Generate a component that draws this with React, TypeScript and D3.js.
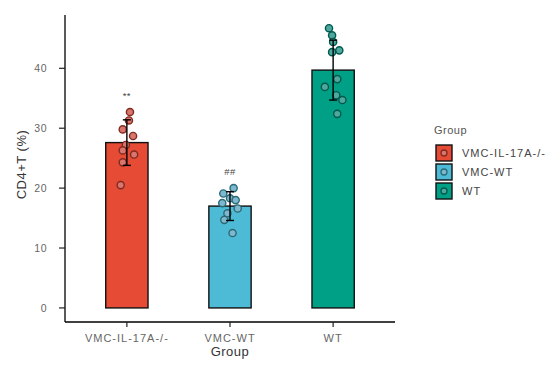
import React from "react";
import * as d3 from "d3";

// group bars (mean +/- sd) with individual points
const groups = ["VMC-IL-17A-/-", "VMC-WT", "WT"];
const colors = ["#E64B35", "#4DBBD5", "#00A087"];
const means = [27.6, 17.0, 39.7];
const sds = [3.8, 2.4, 5.0];
const signif = ["**", "##", ""];

const pointsIL17 = [32.7, 31.3, 29.8, 28.7, 27.2, 26.3, 25.6, 24.3, 20.5];
const pointsVMCWT = [20.0, 19.1, 18.3, 18.0, 17.5, 16.6, 15.8, 14.7, 12.5];
const pointsWT = [46.7, 45.5, 44.4, 43.0, 42.7, 38.2, 36.9, 35.5, 34.7, 32.4];
// jitter, in category units
const jitterIL17 = [0.03, 0.02, -0.04, 0.06, -0.01, -0.04, 0.07, -0.04, -0.06];
const jitterVMCWT = [0.035, -0.065, 0, 0.055, -0.075, 0.075, -0.025, -0.055, 0.025];
const jitterWT = [-0.04, -0.01, 0, 0.06, -0.01, 0.04, -0.08, 0.03, 0.09, 0.04];

const yTicks = [0, 10, 20, 30, 40];

const points = [pointsIL17, pointsVMCWT, pointsWT];
const jitter = [jitterIL17, jitterVMCWT, jitterWT];

const width = 549;
const height = 371;
const margin = { top: 15, left: 65, bottom: 49, right: 154 };
const font = "'Liberation Sans', Arial, Helvetica, sans-serif";

export default function App() {
  const x = d3
    .scalePoint<string>()
    .domain(groups)
    .range([margin.left, width - margin.right])
    .padding(0.6);
  const step = x.step();
  const barW = step * 0.41;

  const y = d3
    .scaleLinear()
    .domain([-2.35, 48.9])
    .range([height - margin.bottom, margin.top]);

  const x0 = margin.left;
  const x1 = width - margin.right;
  const yBottom = height - margin.bottom;

  const pointFill = (c: string) => d3.interpolateRgb(c, "#c4b4c4")(0.4);
  const pointStroke = (c: string) => d3.color(c)!.darker(1.6).formatHex();

  return (
    <svg
      width={width}
      height={height}
      style={{ position: "absolute", left: 0, top: 0, background: "#fff" }}
      fontFamily={font}
    >
      {/* bars */}
      {groups.map((g, i) => (
        <rect
          key={g}
          x={x(g)! - barW / 2}
          y={y(means[i])}
          width={barW}
          height={y(0) - y(means[i])}
          fill={colors[i]}
          stroke="#111"
          strokeWidth={1.4}
        />
      ))}

      {/* points */}
      {groups.map((g, i) =>
        points[i].map((v, j) => (
          <circle
            key={g + j}
            cx={x(g)! + jitter[i][j] * step}
            cy={y(v)}
            r={3.6}
            fill={pointFill(colors[i])}
            stroke={pointStroke(colors[i])}
            strokeWidth={1.4}
          />
        ))
      )}

      {/* error bars */}
      {groups.map((g, i) => {
        const cx = x(g)!;
        const hi = y(means[i] + sds[i]);
        const lo = y(means[i] - sds[i]);
        return (
          <g key={g} stroke="#000" strokeWidth={1.4}>
            <line x1={cx} x2={cx} y1={hi} y2={lo} />
            <line x1={cx - 4} x2={cx + 4} y1={hi} y2={hi} />
            <line x1={cx - 4} x2={cx + 4} y1={lo} y2={lo} />
          </g>
        );
      })}

      {/* significance marks */}
      {groups.map((g, i) => (
        <text
          key={g}
          x={x(g)!}
          y={y(d3.max(points[i])!) - 13}
          textAnchor="middle"
          fontSize={9.5}
          letterSpacing={0.5}
          fill="#444"
        >
          {signif[i]}
        </text>
      ))}

      {/* axes */}
      <line x1={x0} x2={x0} y1={margin.top} y2={yBottom} stroke="#000" strokeWidth={1.3} />
      <line x1={x0} x2={x1} y1={yBottom} y2={yBottom} stroke="#000" strokeWidth={1.3} />
      {yTicks.map((t) => (
        <g key={t}>
          <line x1={x0 - 6} x2={x0} y1={y(t)} y2={y(t)} stroke="#222" strokeWidth={1.2} />
          <text
            x={x0 - 18}
            y={y(t)}
            dy="0.35em"
            textAnchor="end"
            fontSize={10.5}
            letterSpacing={0.5}
            fill="#666"
          >
            {t}
          </text>
        </g>
      ))}
      {groups.map((g) => (
        <g key={g}>
          <line x1={x(g)} x2={x(g)} y1={yBottom} y2={yBottom + 5} stroke="#222" strokeWidth={1.2} />
          <text
            x={x(g)}
            y={yBottom + 16}
            dy="0.35em"
            textAnchor="middle"
            fontSize={11}
            letterSpacing={1}
            fill="#666"
          >
            {g}
          </text>
        </g>
      ))}

      {/* axis titles */}
      <text
        x={(x0 + x1) / 2}
        y={356}
        textAnchor="middle"
        fontSize={13}
        letterSpacing={0.5}
        fill="#333"
      >
        Group
      </text>
      <text
        transform={`translate(26, ${(margin.top + yBottom) / 2 - 4}) rotate(-90)`}
        textAnchor="middle"
        fontSize={13}
        letterSpacing={0.5}
        fill="#333"
      >
        CD4+T (%)
      </text>

      {/* legend */}
      <g transform="translate(434, 0)">
        <text x={0} y={134} fontSize={11} letterSpacing={0.5} fill="#555">
          Group
        </text>
        {groups.map((g, i) => {
          const ky = 145 + i * 19;
          const c = colors[i];
          return (
            <g key={g}>
              <rect x={2} y={ky} width={16} height={16} fill={c} stroke="#111" strokeWidth={1.4} />
              <circle
                cx={10}
                cy={ky + 8}
                r={3}
                fill={pointFill(c)}
                stroke={pointStroke(c)}
                strokeWidth={1.3}
              />
              <text x={28} y={ky + 8} dy="0.35em" fontSize={11} letterSpacing={1} fill="#444">
                {g}
              </text>
            </g>
          );
        })}
      </g>
    </svg>
  );
}
